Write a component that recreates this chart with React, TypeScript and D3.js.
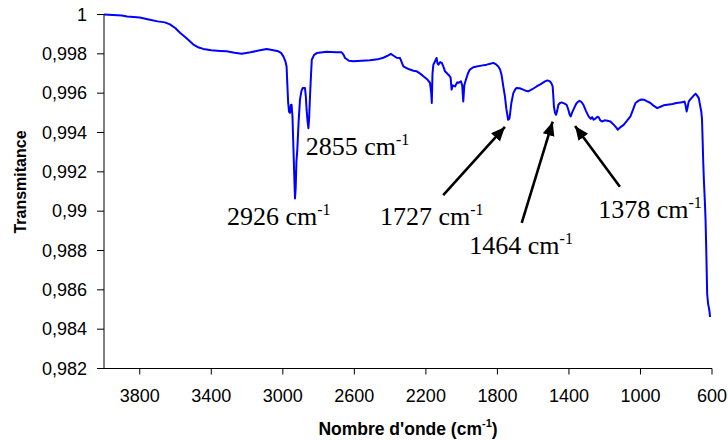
import React from "react";
import * as d3 from "d3";

const wavenumbers = [
  4000, 3950, 3900, 3871, 3800, 3750, 3700, 3660, 3631, 3600, 3575, 3540, 3500, 3470, 3445, 3400, 3350, 3314, 3270, 3230,
  3180, 3128, 3090, 3060, 3025, 3010, 2997, 2985, 2979, 2975, 2970, 2965, 2960, 2955, 2951, 2946, 2940, 2935, 2932, 2928,
  2924, 2919, 2912, 2904, 2896, 2889, 2876, 2871, 2867, 2862, 2857, 2853, 2848, 2842, 2838, 2825, 2810, 2755, 2700, 2671,
  2660, 2652, 2630, 2606, 2560, 2513, 2470, 2438, 2410, 2396, 2380, 2364, 2345, 2326, 2310, 2289, 2270, 2251, 2230, 2214,
  2190, 2177, 2170, 2167, 2163, 2158, 2150, 2140, 2135, 2130, 2120, 2111, 2100, 2093, 2074, 2062, 2056, 2050, 2037, 2025,
  2019, 2004, 1997, 1991, 1985, 1976, 1965, 1954, 1935, 1916, 1890, 1860, 1840, 1823, 1810, 1795, 1785, 1777, 1768, 1758,
  1750, 1740, 1733, 1730, 1722, 1711, 1700, 1693, 1675, 1656, 1640, 1628, 1605, 1581, 1560, 1534, 1520, 1506, 1498, 1491,
  1487, 1484, 1478, 1472, 1466, 1459, 1450, 1441, 1427, 1413, 1403, 1396, 1390, 1383, 1375, 1360, 1350, 1341, 1330, 1319,
  1305, 1290, 1278, 1270, 1262, 1250, 1240, 1234, 1225, 1215, 1200, 1185, 1168, 1150, 1135, 1127, 1115, 1094, 1075, 1056,
  1040, 1028, 1010, 995, 981, 962, 944, 925, 906, 885, 870, 850, 820, 800, 776, 760, 754, 748, 742, 736,
  730, 715, 700, 692, 685, 674, 665, 660, 656, 653, 649, 645, 640, 636, 632, 627, 622, 618, 614, 611,
];

const transmittance = [
  1.0, 0.99998, 0.99995, 0.9999, 0.99985, 0.99975, 0.99965, 0.9996, 0.9995, 0.9993, 0.99907, 0.9988, 0.99847, 0.99832, 0.99825, 0.99818, 0.99815, 0.99813, 0.99805, 0.998,
  0.99808, 0.99818, 0.99825, 0.9982, 0.99813, 0.99805, 0.99787, 0.9976, 0.99736, 0.9965, 0.9955, 0.99505, 0.995, 0.9954, 0.99541, 0.9948, 0.993, 0.9915, 0.99065, 0.9912,
  0.9925, 0.99312, 0.9945, 0.99567, 0.9961, 0.99626, 0.99626, 0.9958, 0.99516, 0.9946, 0.99422, 0.9947, 0.99584, 0.997, 0.9977, 0.99795, 0.99804, 0.9981, 0.99808, 0.99808,
  0.99795, 0.99779, 0.99765, 0.99762, 0.99765, 0.99767, 0.99772, 0.9978, 0.99792, 0.998, 0.9979, 0.9978, 0.99779, 0.99736, 0.99728, 0.9972, 0.99714, 0.99711, 0.99698, 0.99686,
  0.99668, 0.99652, 0.996, 0.9955, 0.997, 0.99745, 0.9976, 0.99779, 0.9975, 0.99745, 0.99758, 0.99754, 0.9973, 0.99711, 0.99694, 0.9968, 0.99618, 0.9964, 0.99634, 0.99655,
  0.99652, 0.9966, 0.9964, 0.99558, 0.9964, 0.99669, 0.997, 0.9972, 0.99732, 0.99736, 0.9974, 0.99745, 0.9975, 0.99754, 0.99748, 0.99736, 0.9972, 0.99694, 0.9964, 0.99584,
  0.9952, 0.99465, 0.9947, 0.9949, 0.9955, 0.996, 0.9962, 0.99626, 0.99625, 0.99618, 0.99612, 0.99609, 0.9962, 0.99634, 0.99645, 0.9966, 0.99665, 0.9966, 0.9965, 0.99634,
  0.9958, 0.99532, 0.995, 0.9949, 0.9951, 0.99541, 0.9955, 0.99553, 0.99548, 0.99541, 0.99515, 0.9949, 0.99482, 0.995, 0.99516, 0.99545, 0.99556, 0.99561, 0.99555, 0.99541,
  0.9951, 0.99482, 0.9947, 0.99478, 0.99465, 0.99472, 0.9948, 0.99478, 0.99462, 0.99456, 0.99462, 0.9946, 0.99456, 0.9944, 0.99425, 0.99414, 0.99425, 0.99439, 0.9946, 0.99482,
  0.9952, 0.9955, 0.99562, 0.99568, 0.99567, 0.99558, 0.9955, 0.99535, 0.99524, 0.99532, 0.99538, 0.99541, 0.99545, 0.9955, 0.99553, 0.99555, 0.99558, 0.9954, 0.99507, 0.9953,
  0.99558, 0.99575, 0.9959, 0.99597, 0.9959, 0.99575, 0.9953, 0.99507, 0.9947, 0.9938, 0.9925, 0.9915, 0.9905, 0.98955, 0.988, 0.9858, 0.9853, 0.98512, 0.9849, 0.98462,
];

const xTicks = [3800, 3400, 3000, 2600, 2200, 1800, 1400, 1000, 600];
const yTicks = [0.982, 0.984, 0.986, 0.988, 0.99, 0.992, 0.994, 0.996, 0.998, 1];

// annotation labels, anchored in data coordinates
const annotationLabels = ["2926", "2855", "1727", "1464", "1378"];
const annotationTextWn = [3312, 2872, 2457, 1957, 1236];
const annotationTextT = [0.9893, 0.99286, 0.9893, 0.98782, 0.98967];
// arrows: tail and tip in data coordinates (null for no arrow)
const arrowTailWn = [null, null, 2103, 1664, 1115];
const arrowTailT = [null, null, 0.99082, 0.98941, 0.99124];
const arrowTipWn = [null, null, 1758, 1491, 1366];
const arrowTipT = [null, null, 0.99428, 0.99455, 0.99433];

const W = 728;
const H = 441;

export default function App() {
  const x = d3.scaleLinear().domain([4000, 600]).range([104, 712]);
  const y = d3.scaleLinear().domain([0.982, 1]).range([368.5, 14.5]);

  const pts: [number, number][] = wavenumbers.map((w, i) => [w, transmittance[i]]);
  const line = d3
    .line<[number, number]>()
    .x((d) => x(d[0]))
    .y((d) => y(d[1]));

  const fmt = (v: number) => String(+v.toFixed(3)).replace(".", ",");

  const arial = "Arial, 'Liberation Sans', sans-serif";
  const times = "'Times New Roman', 'Liberation Serif', serif";

  return (
    <svg
      width={W}
      height={H}
      style={{ position: "absolute", left: 0, top: 0, background: "#fff" }}
    >
      <defs>
        <marker
          id="arrowhead"
          markerUnits="userSpaceOnUse"
          markerWidth={16}
          markerHeight={14}
          refX={14}
          refY={6}
          orient="auto"
        >
          <path d="M0,0 L14,6 L0,12 Z" fill="#000" />
        </marker>
      </defs>

      {/* axes */}
      <line x1={x(4000)} x2={x(4000)} y1={y(1)} y2={y(0.982)} stroke="#000" strokeWidth={1} />
      <line x1={x(4000)} x2={x(600)} y1={y(0.982)} y2={y(0.982)} stroke="#000" strokeWidth={1} />

      {yTicks.map((t) => (
        <g key={"y" + t}>
          <line x1={x(4000) - 7} x2={x(4000)} y1={y(t)} y2={y(t)} stroke="#000" strokeWidth={1} />
          <text
            x={87}
            y={y(t)}
            dy="0.35em"
            textAnchor="end"
            fontFamily={arial}
            fontSize={18}
            fill="#000"
          >
            {fmt(t)}
          </text>
        </g>
      ))}

      {xTicks.map((t) => (
        <g key={"x" + t}>
          <line x1={x(t)} x2={x(t)} y1={y(0.982)} y2={y(0.982) + 6} stroke="#000" strokeWidth={1} />
          <text
            x={x(t)}
            y={401.5}
            textAnchor="middle"
            fontFamily={arial}
            fontSize={18}
            fill="#000"
          >
            {t}
          </text>
        </g>
      ))}

      {/* axis titles */}
      <text
        transform={`translate(25.5,182) rotate(-90)`}
        textAnchor="middle"
        fontFamily={arial}
        fontWeight="bold"
        fontSize={16}
        fill="#000"
      >
        Transmitance
      </text>
      <text
        x={408}
        y={435}
        textAnchor="middle"
        fontFamily={arial}
        fontWeight="bold"
        fontSize={17.5}
        fill="#000"
      >
        Nombre d'onde (cm
        <tspan fontSize={11} dy={-8}>
          -1
        </tspan>
        <tspan dy={8}>)</tspan>
      </text>

      {/* spectrum */}
      <path d={line(pts) || ""} fill="none" stroke="#0000FF" strokeWidth={2} strokeLinejoin="round" />

      {/* annotations */}
      {annotationLabels.map((lab, i) => (
        <g key={"a" + lab}>
          {arrowTailWn[i] !== null && (
            <line
              x1={x(arrowTailWn[i] as number)}
              y1={y(arrowTailT[i] as number)}
              x2={x(arrowTipWn[i] as number)}
              y2={y(arrowTipT[i] as number)}
              stroke="#000"
              strokeWidth={2.6}
              markerEnd="url(#arrowhead)"
            />
          )}
          <text
            x={x(annotationTextWn[i])}
            y={y(annotationTextT[i])}
            fontFamily={times}
            fontSize={26}
            fill="#000"
          >
            {lab + " cm"}
            <tspan fontSize={16} dy={-10}>
              -1
            </tspan>
          </text>
        </g>
      ))}
    </svg>
  );
}
